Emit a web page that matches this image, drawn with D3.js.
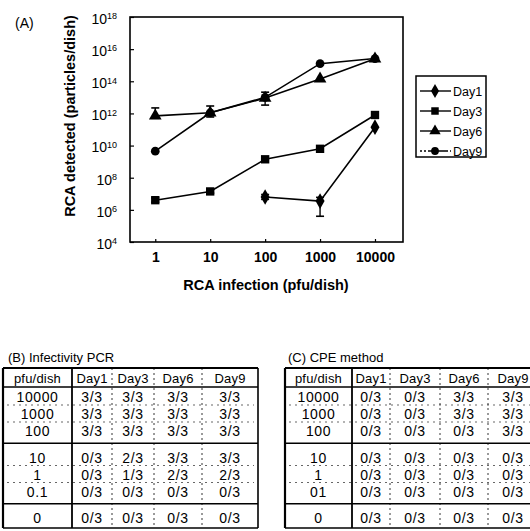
<!DOCTYPE html>
<html><head><meta charset="utf-8">
<script src="https://cdn.jsdelivr.net/npm/d3@7"></script>
<style>body{margin:0;background:#fff;} svg{display:block;}</style>
</head><body><svg id="c" width="530" height="531"></svg>
<script>
// ---------- data ----------
const doses = [1, 10, 100, 1000, 10000];
const xTickLabels = ["1", "10", "100", "1000", "10000"];
const yTickValues = [1e4, 1e6, 1e8, 1e10, 1e12, 1e14, 1e16, 1e18];
const seriesNames = ["Day1", "Day3", "Day6", "Day9"];
const day1 = [null, null, 6.3e6, 3.5e6, 1.4e11];
const day3 = [4.0e6, 1.4e7, 1.4e9, 6.3e9, 8.0e11];
const day6 = [7.0e11, 1.1e12, 9.0e12, 1.4e14, 2.5e15];
const day9 = [4.5e9, 1.1e12, 1.0e13, 1.25e15, 2.6e15];
const day1Err = [null, null, [4.5e6, 9.0e6], [4.0e5, 6.0e6], null];
const day3Err = [[3.0e6, 5.5e6], [1.1e7, 1.8e7], null, null, null];
const day6Err = [[5.0e11, 2.2e12], [6.0e11, 2.9e12], [3.3e12, 2.1e13], null, null];
const day9Err = [null, null, null, null, null];

const pfuLabelsB = ["10000", "1000", "100", "10", "1", "0.1", "0"];
const pfuLabelsC = ["10000", "1000", "100", "10", "1", "01", "0"];
const dayHeaders = ["Day1", "Day3", "Day6", "Day9"];
const pcrDay1 = ["3/3", "3/3", "3/3", "0/3", "0/3", "0/3", "0/3"];
const pcrDay3 = ["3/3", "3/3", "3/3", "2/3", "1/3", "0/3", "0/3"];
const pcrDay6 = ["3/3", "3/3", "3/3", "3/3", "2/3", "0/3", "0/3"];
const pcrDay9 = ["3/3", "3/3", "3/3", "3/3", "2/3", "0/3", "0/3"];
const cpeDay1 = ["0/3", "0/3", "0/3", "0/3", "0/3", "0/3", "0/3"];
const cpeDay3 = ["0/3", "0/3", "0/3", "0/3", "0/3", "0/3", "0/3"];
const cpeDay6 = ["3/3", "3/3", "0/3", "0/3", "0/3", "0/3", "0/3"];
const cpeDay9 = ["3/3", "3/3", "3/3", "0/3", "0/3", "0/3", "0/3"];

// ---------- chart ----------
const svg = d3.select("#c");
const FONT = "'Liberation Sans', Arial, sans-serif";
const L = 130, R = 403, T = 17, B = 242;

const x = d3.scaleLog().domain([Math.pow(10, -0.46), Math.pow(10, 4.51)]).range([L, R]);
const y = d3.scaleLog().domain([1e4, 1e18]).range([B, T]);

svg.append("text").attr("x", 15).attr("y", 28).attr("font-family", FONT)
  .attr("font-size", 14).text("(A)");

svg.append("rect").attr("x", L).attr("y", T).attr("width", R - L).attr("height", B - T)
  .attr("fill", "none").attr("stroke", "#000").attr("stroke-width", 1.6);

const yAxis = svg.append("g").attr("transform", `translate(${L},0)`)
  .call(d3.axisLeft(y).tickValues(yTickValues).tickSize(-4).tickPadding(13).tickFormat(() => "10"));
yAxis.select(".domain").remove();
yAxis.selectAll(".tick line").attr("stroke-width", 1.2);
yAxis.selectAll(".tick text").attr("font-family", FONT).attr("font-size", 14)
  .attr("fill", "#000").attr("dy", "0.45em")
  .each(function (d) {
    d3.select(this).append("tspan").attr("dy", "-0.5em").attr("font-size", 9)
      .text(Math.round(Math.log10(d)));
  });

const xAxis = svg.append("g").attr("transform", `translate(0,${B})`)
  .call(d3.axisBottom(x).tickValues(doses).tickSize(-3).tickPadding(10)
    .tickFormat((d, i) => xTickLabels[i]));
xAxis.select(".domain").remove();
xAxis.selectAll(".tick line").attr("stroke-width", 1.2);
xAxis.selectAll(".tick text").attr("font-family", FONT).attr("font-size", 14)
  .attr("font-weight", "bold").attr("fill", "#000");

svg.append("text").attr("x", 266).attr("y", 290).attr("text-anchor", "middle")
  .attr("font-family", FONT).attr("font-size", 14.5).attr("font-weight", "bold")
  .text("RCA infection (pfu/dish)");
svg.append("text").attr("transform", "translate(75,116) rotate(-90)")
  .attr("text-anchor", "middle").attr("font-family", FONT).attr("font-size", 14.5)
  .attr("font-weight", "bold").text("RCA detected (particles/dish)");

const series = [
  { name: "Day1", vals: day1, err: day1Err, sym: d3.symbolDiamond, size: 70 },
  { name: "Day3", vals: day3, err: day3Err, sym: d3.symbolSquare, size: 70 },
  { name: "Day6", vals: day6, err: day6Err, sym: d3.symbolTriangle, size: 70 },
  { name: "Day9", vals: day9, err: day9Err, sym: d3.symbolCircle, size: 60 }
];

const line = d3.line().defined(d => d[1] != null).x(d => x(d[0])).y(d => y(d[1]));
series.forEach(s => {
  const pts = doses.map((d, i) => [d, s.vals[i], s.err[i]]);
  svg.append("path").datum(pts).attr("d", line).attr("fill", "none")
    .attr("stroke", "#000").attr("stroke-width", 1.6);
  const eb = svg.append("g");
  pts.filter(p => p[1] != null && p[2]).forEach(p => {
    const cx = x(p[0]), y0 = y(p[2][0]), y1 = y(p[2][1]);
    eb.append("line").attr("x1", cx).attr("x2", cx).attr("y1", y0).attr("y2", y1)
      .attr("stroke", "#000").attr("stroke-width", 1.4);
    [y0, y1].forEach(yy => eb.append("line").attr("x1", cx - 4).attr("x2", cx + 4)
      .attr("y1", yy).attr("y2", yy).attr("stroke", "#000").attr("stroke-width", 1.6));
  });
  svg.append("g").selectAll("path").data(pts.filter(p => p[1] != null)).join("path")
    .attr("transform", p => `translate(${x(p[0])},${y(p[1])})`)
    .attr("d", d3.symbol().type(s.sym).size(s.size)).attr("fill", "#000");
});

// legend
const lg = svg.append("g");
lg.append("rect").attr("x", 416).attr("y", 76).attr("width", 70).attr("height", 81)
  .attr("fill", "none").attr("stroke", "#000").attr("stroke-width", 1.5);
series.forEach((s, i) => {
  const ly = 91 + i * 20;
  lg.append("line").attr("x1", 420).attr("x2", 451).attr("y1", ly).attr("y2", ly)
    .attr("stroke", "#000").attr("stroke-width", 1.4)
    .attr("stroke-dasharray", s.name === "Day9" ? "2,2,2,2,20" : null);
  lg.append("path").attr("transform", `translate(435,${ly})`)
    .attr("d", d3.symbol().type(s.sym).size(s.size * 0.8)).attr("fill", "#000");
  lg.append("text").attr("x", 453).attr("y", ly + 4.5).attr("font-family", FONT)
    .attr("font-size", 12.5).text(s.name);
});

// ---------- tables ----------
function drawTable(title, edges, pfu, cols, titleX) {
  const g = svg.append("g");
  const top = 368, headBottom = 387, rowH = 17, gap = 9.5;
  const groupOf = i => (i < 3 ? 0 : i < 6 ? 1 : 2);
  const centers = pfu.map((_, i) => 397 + i * rowH + groupOf(i) * gap);
  const bottom = centers[centers.length - 1] + 10;
  const left = edges[0], right = edges[edges.length - 1];
  g.append("text").attr("x", titleX).attr("y", 362).attr("font-family", FONT)
    .attr("font-size", 13).text(title);
  const sl = (x1, y1, x2, y2, w, dash) => g.append("line").attr("x1", x1).attr("y1", y1)
    .attr("x2", x2).attr("y2", y2).attr("stroke", "#000").attr("stroke-width", w)
    .attr("stroke-dasharray", dash || null);
  sl(left, top, right, top, 2.2);
  sl(left, headBottom, right, headBottom, 1.6);
  const g1 = (centers[2] + centers[3]) / 2 - 1, g2 = (centers[5] + centers[6]) / 2 - 1;
  sl(left, g1, right, g1, 1.3);
  sl(left, g2, right, g2, 1.3);
  sl(left, bottom, right, bottom, 1.6);
  sl(left, top, left, bottom, 2.2);
  sl(edges[1], top, edges[1], bottom, 1.8);
  sl(right, top, right, bottom, 1.6);
  for (let k = 2; k < edges.length - 1; k++) sl(edges[k], top, edges[k], bottom, 0.8, "2,3");
  [0, 1, 3, 4].forEach(i => sl(left + 4, centers[i] + 8, right - 4, centers[i] + 8, 0.6, "2,4"));
  const mid = k => (edges[k] + edges[k + 1]) / 2;
  const hdr = ["pfu/dish"].concat(dayHeaders);
  hdr.forEach((h, k) => g.append("text").attr("x", mid(k)).attr("y", (top + headBottom) / 2 + 5)
    .attr("text-anchor", "middle").attr("font-family", FONT).attr("font-size", 13)
    .attr("letter-spacing", 0.2).text(h));
  pfu.forEach((p, i) => {
    g.append("text").attr("x", mid(0)).attr("y", centers[i] + 5).attr("text-anchor", "middle")
      .attr("font-family", FONT).attr("font-size", 14).attr("letter-spacing", 0.6).text(p);
    cols.forEach((c, k) => g.append("text").attr("x", mid(k + 1)).attr("y", centers[i] + 5)
      .attr("text-anchor", "middle").attr("font-family", FONT).attr("font-size", 14)
      .attr("letter-spacing", 0.6).text(c[i]));
  });
}
drawTable("(B) Infectivity PCR", [3, 72, 112, 154, 202, 258], pfuLabelsB,
  [pcrDay1, pcrDay3, pcrDay6, pcrDay9], 8);
drawTable("(C) CPE method", [285, 352, 390, 440, 488, 538], pfuLabelsC,
  [cpeDay1, cpeDay3, cpeDay6, cpeDay9], 288);
</script></body></html>
